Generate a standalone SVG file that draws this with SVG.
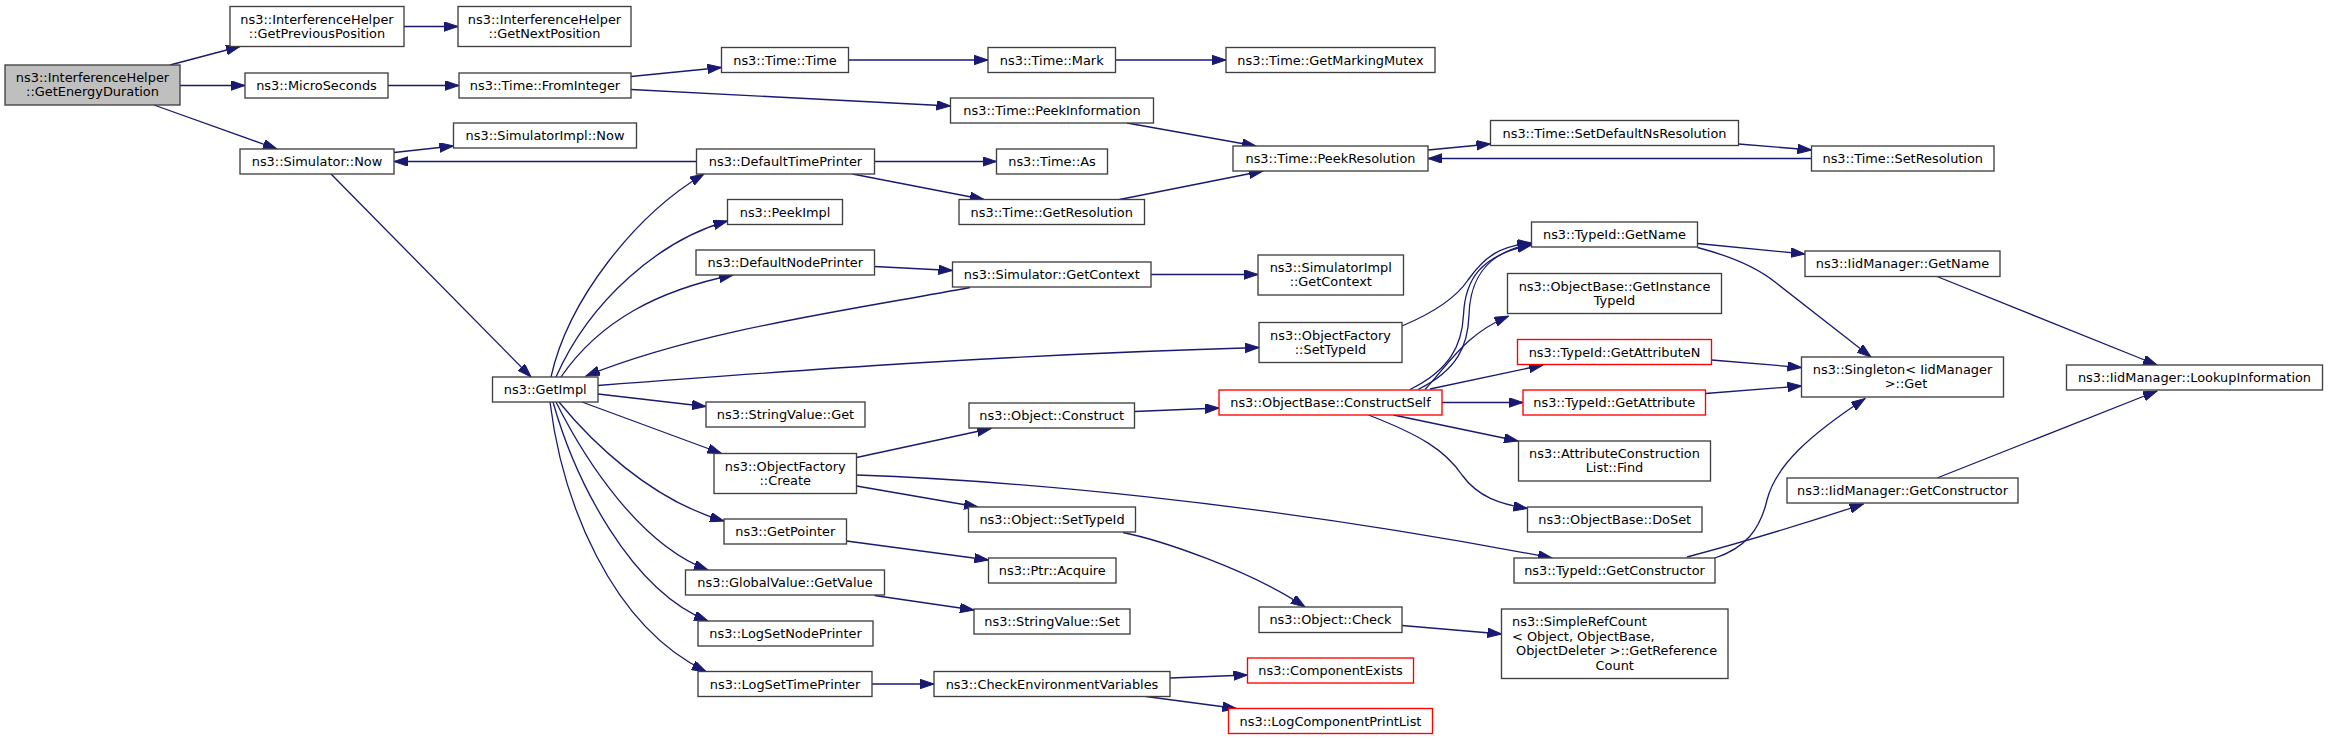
<svg xmlns="http://www.w3.org/2000/svg" width="2328" height="740" viewBox="0 0 2328 740">
<defs>
<style>
.node rect{fill:#ffffff;stroke:#404040;stroke-width:1.35}
.node.red rect{stroke:#ff0000}
.node.root rect{fill:#bfbfbf}
.node text{font-family:"DejaVu Sans","Liberation Sans",sans-serif;font-size:12.9px;text-anchor:middle;fill:#000000}
.node text.l{text-anchor:start}
.edges path{fill:none;stroke:#191970;stroke-width:1.3;marker-end:url(#arr)}
</style>
<marker id="arr" markerUnits="userSpaceOnUse" viewBox="0 0 15 10" markerWidth="15" markerHeight="10" refX="14" refY="4.75" orient="auto">
<path d="M0,0 L14,4.75 L0,9.5 z" fill="#191970" stroke="#191970" stroke-width="1"/>
</marker>
</defs>
<rect x="0" y="0" width="2328" height="740" fill="#ffffff"/>
<g class="edges">
<path d="M170,65 L240,46.5"/>
<path d="M180,85.5 L245,85.5"/>
<path d="M154,105 L277,149"/>
<path d="M404,26.5 L458,26.5"/>
<path d="M388,85.5 L459,85.5"/>
<path d="M394,152.5 L453.5,146"/>
<path d="M696.5,161.5 L394,161.5"/>
<path d="M331,174 L531,377"/>
<path d="M631,76.5 L721.5,67.5"/>
<path d="M631,89.5 L950.5,106"/>
<path d="M848.5,60 L988,60"/>
<path d="M1115.5,60 L1226,60"/>
<path d="M1127,123 L1256,146"/>
<path d="M874.5,161.5 L996.5,161.5"/>
<path d="M852.5,174 L984,199.5"/>
<path d="M1119.5,199.5 L1263,171"/>
<path d="M1428,150 L1490.5,144"/>
<path d="M1738.5,144 L1811.5,150"/>
<path d="M1811.5,158.5 L1428,158.5"/>
<path d="M551,377 C568,300 635,215 704,174"/>
<path d="M556,377 C590,300 660,240 727.5,221"/>
<path d="M561,377 C600,320 660,290 733,275"/>
<path d="M970,287.5 C850,310 700,330 586,376"/>
<path d="M874.5,266.5 L952.5,270.5"/>
<path d="M1151,274.5 L1258,274.5"/>
<path d="M598,385.5 C800,370 1000,355 1259,347.5"/>
<path d="M598,394 L706,406.5"/>
<path d="M582,402 L721.5,453.5"/>
<path d="M559,402 C590,440 650,500 724,521"/>
<path d="M556,402 C585,460 640,545 708,570"/>
<path d="M553,402 C575,480 630,590 708,621"/>
<path d="M550,402 C562,500 610,625 706,671.5"/>
<path d="M856.5,457.5 L991,428.5"/>
<path d="M856.5,475 C1000,480 1250,500 1552,558"/>
<path d="M856.5,486 L978,507"/>
<path d="M846.5,541 L988.5,560"/>
<path d="M874.5,595.5 L974,610"/>
<path d="M872,684 L934,684"/>
<path d="M1134.5,411.5 L1219,408"/>
<path d="M1123,532.5 C1160,540 1250,570 1305,607"/>
<path d="M1402,625.5 L1501.5,634"/>
<path d="M1170,678 L1247.5,675"/>
<path d="M1146,696.5 L1236.5,708.5"/>
<path d="M1402,326 C1440,310 1458,295 1468,280 C1485,256 1500,246 1531.5,243"/>
<path d="M1410,389.5 C1450,370 1462,345 1463.5,315 C1465,280 1480,255 1531.5,245"/>
<path d="M1418,389.5 C1458,370 1468,345 1469,315 C1470,280 1485,252 1531.5,244"/>
<path d="M1425,389.5 C1452,360 1465,335 1508.5,316"/>
<path d="M1430,389 L1543,365"/>
<path d="M1442,402.5 L1523,402.5"/>
<path d="M1393.5,415 L1518,441"/>
<path d="M1368.5,415 C1420,435 1445,450 1462,475 C1478,497 1500,504 1527.5,508.5"/>
<path d="M1697.5,243.5 L1805,254"/>
<path d="M1697.5,247.5 C1730,256 1755,266 1775,282 L1871,357"/>
<path d="M1711.5,360 L1801.5,367.5"/>
<path d="M1705.5,393.5 L1801.5,386"/>
<path d="M1937,276.5 L2157,365"/>
<path d="M1715,558 C1745,548 1760,530 1767,500 C1776,465 1810,435 1865,398.5"/>
<path d="M1687,557 C1740,543 1800,525 1863.5,504"/>
<path d="M1937,478 L2157,391"/>
</g>
<g id="n0" class="node root"><rect x="5" y="65" width="175" height="40"/><text x="92.5" y="82">ns3::InterferenceHelper</text><text x="92.5" y="96.3">::GetEnergyDuration</text></g>
<g id="n1" class="node"><rect x="230" y="6.5" width="174" height="40"/><text x="317" y="23.5">ns3::InterferenceHelper</text><text x="317" y="37.8">::GetPreviousPosition</text></g>
<g id="n2" class="node"><rect x="458" y="6.5" width="173" height="40"/><text x="544.5" y="23.5">ns3::InterferenceHelper</text><text x="544.5" y="37.8">::GetNextPosition</text></g>
<g id="n3" class="node"><rect x="245" y="73" width="143" height="25"/><text x="316.5" y="90">ns3::MicroSeconds</text></g>
<g id="n4" class="node"><rect x="459" y="73" width="172" height="25"/><text x="545" y="90">ns3::Time::FromInteger</text></g>
<g id="n5" class="node"><rect x="240" y="149" width="154" height="25"/><text x="317" y="166">ns3::Simulator::Now</text></g>
<g id="n6" class="node"><rect x="453.5" y="123" width="183" height="25"/><text x="545" y="140">ns3::SimulatorImpl::Now</text></g>
<g id="n7" class="node"><rect x="492.5" y="377" width="105.5" height="25"/><text x="545.25" y="394">ns3::GetImpl</text></g>
<g id="n8" class="node"><rect x="721.5" y="47.5" width="127" height="25"/><text x="785" y="64.5">ns3::Time::Time</text></g>
<g id="n9" class="node"><rect x="988" y="47.5" width="127.5" height="25"/><text x="1051.75" y="64.5">ns3::Time::Mark</text></g>
<g id="n10" class="node"><rect x="1226" y="47.5" width="209" height="25"/><text x="1330.5" y="64.5">ns3::Time::GetMarkingMutex</text></g>
<g id="n11" class="node"><rect x="950.5" y="98" width="203" height="25"/><text x="1052" y="115">ns3::Time::PeekInformation</text></g>
<g id="n12" class="node"><rect x="696.5" y="149" width="178" height="25"/><text x="785.5" y="166">ns3::DefaultTimePrinter</text></g>
<g id="n13" class="node"><rect x="996.5" y="149" width="111" height="25"/><text x="1052" y="166">ns3::Time::As</text></g>
<g id="n14" class="node"><rect x="1233" y="146" width="195" height="25"/><text x="1330.5" y="163">ns3::Time::PeekResolution</text></g>
<g id="n15" class="node"><rect x="1490.5" y="120.5" width="248" height="25"/><text x="1614.5" y="137.5">ns3::Time::SetDefaultNsResolution</text></g>
<g id="n16" class="node"><rect x="1811.5" y="146" width="182.5" height="25"/><text x="1902.75" y="163">ns3::Time::SetResolution</text></g>
<g id="n17" class="node"><rect x="727.5" y="199.5" width="115" height="25"/><text x="785" y="216.5">ns3::PeekImpl</text></g>
<g id="n18" class="node"><rect x="959" y="199.5" width="185.5" height="25"/><text x="1051.75" y="216.5">ns3::Time::GetResolution</text></g>
<g id="n19" class="node"><rect x="696" y="250" width="178.5" height="25"/><text x="785.25" y="267">ns3::DefaultNodePrinter</text></g>
<g id="n20" class="node"><rect x="952.5" y="262" width="198.5" height="25"/><text x="1051.75" y="279">ns3::Simulator::GetContext</text></g>
<g id="n21" class="node"><rect x="1258" y="255" width="145.5" height="40"/><text x="1330.75" y="272">ns3::SimulatorImpl</text><text x="1330.75" y="286.3">::GetContext</text></g>
<g id="n22" class="node"><rect x="1259" y="322.5" width="143" height="40"/><text x="1330.5" y="339.5">ns3::ObjectFactory</text><text x="1330.5" y="353.8">::SetTypeId</text></g>
<g id="n23" class="node"><rect x="1531.5" y="222" width="166" height="25"/><text x="1614.5" y="239">ns3::TypeId::GetName</text></g>
<g id="n24" class="node"><rect x="1507.5" y="273.5" width="214" height="40"/><text x="1614.5" y="290.5">ns3::ObjectBase::GetInstance</text><text x="1614.5" y="304.8">TypeId</text></g>
<g id="n25" class="node red"><rect x="1517.5" y="339.5" width="194" height="25"/><text x="1614.5" y="356.5">ns3::TypeId::GetAttributeN</text></g>
<g id="n26" class="node"><rect x="1805" y="251" width="195" height="25.5"/><text x="1902.5" y="268">ns3::IidManager::GetName</text></g>
<g id="n27" class="node"><rect x="1801.5" y="357" width="202" height="40"/><text x="1902.5" y="374">ns3::Singleton&lt; IidManager</text><text x="1906" y="388.3">&gt;::Get</text></g>
<g id="n28" class="node"><rect x="2066.5" y="365" width="256" height="25"/><text x="2194.5" y="382">ns3::IidManager::LookupInformation</text></g>
<g id="n29" class="node"><rect x="706" y="402" width="159" height="25"/><text x="785.5" y="419">ns3::StringValue::Get</text></g>
<g id="n30" class="node"><rect x="969" y="403" width="165.5" height="25"/><text x="1051.75" y="420">ns3::Object::Construct</text></g>
<g id="n31" class="node"><rect x="714" y="453.5" width="142.5" height="40"/><text x="785.25" y="470.5">ns3::ObjectFactory</text><text x="785.25" y="484.8">::Create</text></g>
<g id="n32" class="node"><rect x="968.5" y="507" width="167" height="25"/><text x="1052" y="524">ns3::Object::SetTypeId</text></g>
<g id="n33" class="node"><rect x="724" y="519" width="122.5" height="25"/><text x="785.25" y="536">ns3::GetPointer</text></g>
<g id="n34" class="node"><rect x="988.5" y="558" width="127.5" height="25"/><text x="1052.25" y="575">ns3::Ptr::Acquire</text></g>
<g id="n35" class="node"><rect x="685.5" y="570" width="199" height="25"/><text x="785" y="587">ns3::GlobalValue::GetValue</text></g>
<g id="n36" class="node"><rect x="974" y="609" width="156" height="25"/><text x="1052" y="626">ns3::StringValue::Set</text></g>
<g id="n37" class="node"><rect x="698" y="621" width="175" height="25"/><text x="785.5" y="638">ns3::LogSetNodePrinter</text></g>
<g id="n38" class="node"><rect x="698" y="671.5" width="174" height="25"/><text x="785" y="688.5">ns3::LogSetTimePrinter</text></g>
<g id="n39" class="node"><rect x="934" y="671.5" width="236" height="25"/><text x="1052" y="688.5">ns3::CheckEnvironmentVariables</text></g>
<g id="n40" class="node red"><rect x="1219" y="390" width="223" height="25"/><text x="1330.5" y="407">ns3::ObjectBase::ConstructSelf</text></g>
<g id="n41" class="node red"><rect x="1523" y="390" width="182.5" height="25"/><text x="1614.25" y="407">ns3::TypeId::GetAttribute</text></g>
<g id="n42" class="node"><rect x="1518.5" y="441" width="192" height="40"/><text x="1614.5" y="458">ns3::AttributeConstruction</text><text x="1614.5" y="472.3">List::Find</text></g>
<g id="n43" class="node"><rect x="1527.5" y="507" width="174.5" height="25"/><text x="1614.75" y="524">ns3::ObjectBase::DoSet</text></g>
<g id="n44" class="node"><rect x="1514" y="558" width="201" height="25"/><text x="1614.5" y="575">ns3::TypeId::GetConstructor</text></g>
<g id="n45" class="node"><rect x="1259" y="607" width="143" height="25.5"/><text x="1330.5" y="624">ns3::Object::Check</text></g>
<g id="n46" class="node"><rect x="1501.5" y="609" width="226.5" height="69.5"/><text class="l" x="1512" y="626">ns3::SimpleRefCount</text><text class="l" x="1512" y="640.7">&lt; Object, ObjectBase,</text><text class="l" x="1516" y="655.4">ObjectDeleter &gt;::GetReference</text><text x="1614.75" y="670">Count</text></g>
<g id="n47" class="node red"><rect x="1247.5" y="658" width="166" height="25"/><text x="1330.5" y="675">ns3::ComponentExists</text></g>
<g id="n48" class="node red"><rect x="1228.5" y="708.5" width="204" height="25"/><text x="1330.5" y="725.5">ns3::LogComponentPrintList</text></g>
<g id="n49" class="node"><rect x="1787" y="478" width="231" height="25"/><text x="1902.5" y="495">ns3::IidManager::GetConstructor</text></g>
</svg>
